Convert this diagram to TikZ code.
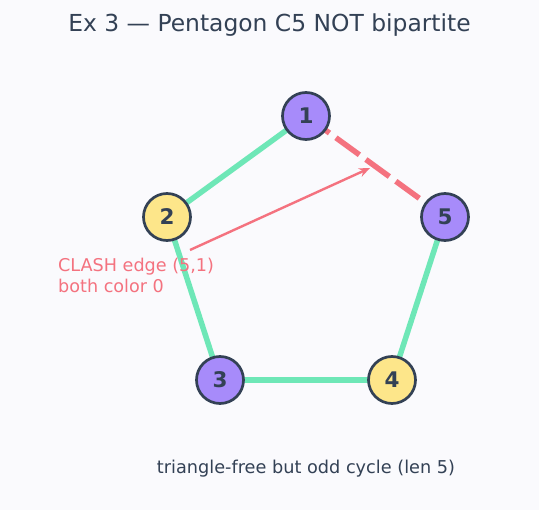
\documentclass[tikz,border=0pt]{standalone}
\usepackage{fontspec}
\setmainfont{DejaVu Sans}
\usetikzlibrary{arrows.meta, backgrounds}
\definecolor{bgcol}{HTML}{FAFAFD}
\definecolor{inkcol}{HTML}{334155}
\definecolor{purplecol}{HTML}{A78BFA}
\definecolor{yellowcol}{HTML}{FDE68A}
\definecolor{greencol}{HTML}{6EE7B7}
\definecolor{clashcol}{HTML}{F4727F}
\begin{document}
\begin{tikzpicture}[x=1pt, y=-1pt, circle, minimum size = 47pt,
    vtx/.style = {draw = inkcol, line width = 2.7pt, text = inkcol, inner sep = 0pt,
                  font = \fontsize{21.5}{21.5}\selectfont\bfseries},
    ok/.style = {draw = greencol, line width = 5.5pt},
    clash/.style = {draw = clashcol, line width = 5.5pt, dash pattern = on 29pt off 8pt}]
      \useasboundingbox (0,0) rectangle (539,510);

      \node[text = inkcol, font = \fontsize{23.4}{23.4}\selectfont] (title) at (269.5,25) {Ex 3 — Pentagon C5 NOT bipartite};

      \node[vtx, fill = purplecol] (1) at (306,116) {1};
      \node[vtx, fill = yellowcol] (2) at (167,217) {2};
      \node[vtx, fill = purplecol] (5) at (445,217) {5};
      \node[vtx, fill = purplecol] (3) at (220,380) {3};
      \node[vtx, fill = yellowcol] (4) at (392,380) {4};

      % edges run centre to centre, under the vertices
      \begin{scope}[on background layer]
        \fill[bgcol] (0,0) rectangle (539,510);
        \path[ok] (1.center) edge (2.center);
        \path[ok] (2.center) edge (3.center);
        \path[ok] (3.center) edge (4.center);
        \path[ok] (4.center) edge (5.center);
        \path[clash] (1.center) edge (5.center);
      \end{scope}

      \coordinate (tail) at (190,250);
      \coordinate (head) at (370,168);
      \draw[clashcol, line width = 2.4pt, -{Stealth[length = 11pt, width = 9pt]}] (tail) -- (head);

      \node[rectangle, minimum size = 0pt, anchor = west, align = left, text = clashcol,
            font = \fontsize{17.6}{21}\selectfont, inner sep = 0pt] (lbl) at (58,275)
            {CLASH edge (5,1)\\both color 0};

      \node[rectangle, minimum size = 0pt, text = inkcol, font = \fontsize{17.7}{17.7}\selectfont] (note) at (306,469)
            {triangle-free but odd cycle (len 5)};
\end{tikzpicture}
\end{document}
